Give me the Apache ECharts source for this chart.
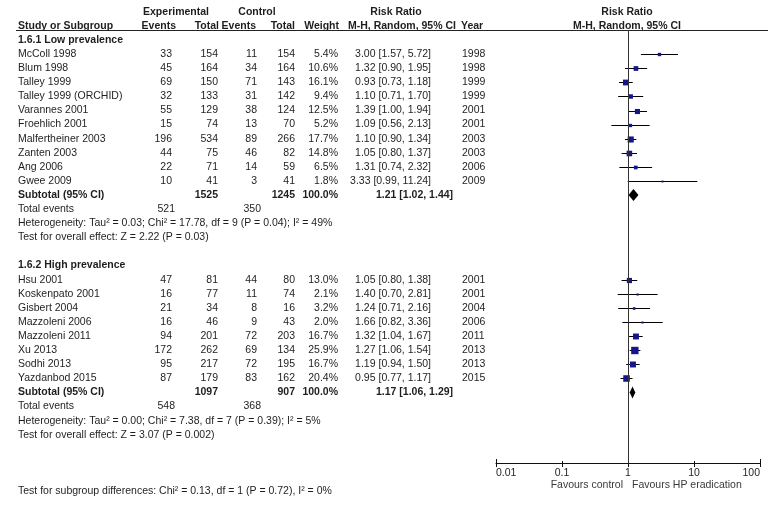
<!DOCTYPE html>
<html>
<head>
<meta charset="utf-8">
<script src="https://cdn.jsdelivr.net/npm/echarts@6/dist/echarts.min.js"></script>
<style>
  html, body { margin: 0; padding: 0; background: #fff; }
  #chart { width: 784px; height: 507px; }
</style>
</head>
<body>
<div id="chart"></div>
<script>
// ---- data: 1.6.1 Low prevalence ----
const names1   = ['McColl 1998', 'Blum 1998', 'Talley 1999', 'Talley 1999 (ORCHID)', 'Varannes 2001',
                  'Froehlich 2001', 'Malfertheiner 2003', 'Zanten 2003', 'Ang 2006', 'Gwee 2009'];
const expEv1   = [33, 45, 69, 32, 55, 15, 196, 44, 22, 10];
const expTot1  = [154, 164, 150, 133, 129, 74, 534, 75, 71, 41];
const ctlEv1   = [11, 34, 71, 31, 38, 13, 89, 46, 14, 3];
const ctlTot1  = [154, 164, 143, 142, 124, 70, 266, 82, 59, 41];
const weight1  = [5.4, 10.6, 16.1, 9.4, 12.5, 5.2, 17.7, 14.8, 6.5, 1.8];
const rr1      = [3.00, 1.32, 0.93, 1.10, 1.39, 1.09, 1.10, 1.05, 1.31, 3.33];
const lo1      = [1.57, 0.90, 0.73, 0.71, 1.00, 0.56, 0.90, 0.80, 0.74, 0.99];
const hi1      = [5.72, 1.95, 1.18, 1.70, 1.94, 2.13, 1.34, 1.37, 2.32, 11.24];
const year1    = [1998, 1998, 1999, 1999, 2001, 2001, 2003, 2003, 2006, 2009];

// ---- data: 1.6.2 High prevalence ----
const names2   = ['Hsu 2001', 'Koskenpato 2001', 'Gisbert 2004', 'Mazzoleni 2006', 'Mazzoleni 2011',
                  'Xu 2013', 'Sodhi 2013', 'Yazdanbod 2015'];
const expEv2   = [47, 16, 21, 16, 94, 172, 95, 87];
const expTot2  = [81, 77, 34, 46, 201, 262, 217, 179];
const ctlEv2   = [44, 11, 8, 9, 72, 69, 72, 83];
const ctlTot2  = [80, 74, 16, 43, 203, 134, 195, 162];
const weight2  = [13.0, 2.1, 3.2, 2.0, 16.7, 25.9, 16.7, 20.4];
const rr2      = [1.05, 1.40, 1.24, 1.66, 1.32, 1.27, 1.19, 0.95];
const lo2      = [0.80, 0.70, 0.71, 0.82, 1.04, 1.06, 0.94, 0.77];
const hi2      = [1.38, 2.81, 2.16, 3.36, 1.67, 1.54, 1.50, 1.17];
const year2    = [2001, 2001, 2004, 2006, 2011, 2013, 2013, 2015];

// ---- subgroup summaries ----
const groupTitles  = ['1.6.1 Low prevalence', '1.6.2 High prevalence'];
const subExpTotal  = [1525, 1097];
const subCtlTotal  = [1245, 907];
const subRR        = [1.21, 1.17];
const subLo        = [1.02, 1.06];
const subHi        = [1.44, 1.29];
const totExpEvents = [521, 548];
const totCtlEvents = [350, 368];
const hetText = [
  'Heterogeneity: Tau\u00b2 = 0.03; Chi\u00b2 = 17.78, df = 9 (P = 0.04); I\u00b2 = 49%',
  'Heterogeneity: Tau\u00b2 = 0.00; Chi\u00b2 = 7.38, df = 7 (P = 0.39); I\u00b2 = 5%'
];
const testText = [
  'Test for overall effect: Z = 2.22 (P = 0.03)',
  'Test for overall effect: Z = 3.07 (P = 0.002)'
];
const diffText = 'Test for subgroup differences: Chi\u00b2 = 0.13, df = 1 (P = 0.72), I\u00b2 = 0%';
const axisTicks = [0.01, 0.1, 1, 10, 100];

// ---- layout ----
const W = 784, H = 507;
const ROW_H = 14.1, ROW0_Y = 40;           // pixel centre of row 0
const ROW_MIN = -2.5, ROW_MAX = 33;
const AXIS_ROW = (463 - ROW0_Y) / ROW_H;   // forest axis line sits here
const LINE_ROW = (30 - ROW0_Y) / ROW_H;    // header underline
const FAV_ROW = (485 - ROW0_Y) / ROW_H;
const gridTop = ROW0_Y + ROW_MIN * ROW_H;
const FONT = '"Liberation Sans", Arial, sans-serif';
const FS = 10.5;
const TXT = '#1e1e1e';

const groups = [
  { start: 0,  names: names1, ee: expEv1, et: expTot1, ce: ctlEv1, ct: ctlTot1, w: weight1, rr: rr1, lo: lo1, hi: hi1, yr: year1 },
  { start: 16, names: names2, ee: expEv2, et: expTot2, ce: ctlEv2, ct: ctlTot2, w: weight2, rr: rr2, lo: lo2, hi: hi2, yr: year2 }
];

const ci = (r, l, h) => r.toFixed(2) + ' [' + l.toFixed(2) + ', ' + h.toFixed(2) + ']';

// table text cells
const cells = [];
function put(text, x, row, align, bold, color) {
  cells.push({ text: String(text), x: x, row: row, align: align || 'left', bold: !!bold, color: color || TXT });
}
put('Experimental', 176, -2, 'center', true);
put('Control', 257, -2, 'center', true);
put('Risk Ratio', 396, -2, 'center', true);
put('Risk Ratio', 627, -2, 'center', true);
put('Study or Subgroup', 18, -1, 'left', true);
put('Events', 176, -1, 'right', true);
put('Total', 219, -1, 'right', true);
put('Events', 256, -1, 'right', true);
put('Total', 295, -1, 'right', true);
put('Weight', 339, -1, 'right', true);
put('M-H, Random, 95% CI', 402, -1, 'center', true);
put('Year', 461, -1, 'left', true);
put('M-H, Random, 95% CI', 627, -1, 'center', true);

const studyData = [];
const diamondData = [];
groups.forEach(function (g, gi) {
  put(groupTitles[gi], 18, g.start, 'left', true);
  g.names.forEach(function (n, i) {
    const r = g.start + 1 + i;
    put(n, 18, r);
    put(g.ee[i], 172, r, 'right');
    put(g.et[i], 218, r, 'right');
    put(g.ce[i], 257, r, 'right');
    put(g.ct[i], 295, r, 'right');
    put(g.w[i].toFixed(1) + '%', 338, r, 'right');
    put(ci(g.rr[i], g.lo[i], g.hi[i]), 431, r, 'right');
    put(g.yr[i], 462, r, 'left');
    studyData.push([g.rr[i], r, g.lo[i], g.hi[i], g.w[i]]);
  });
  const s = g.start + 1 + g.names.length;
  put('Subtotal (95% CI)', 18, s, 'left', true);
  put(subExpTotal[gi], 218, s, 'right', true);
  put(subCtlTotal[gi], 295, s, 'right', true);
  put('100.0%', 338, s, 'right', true);
  put(ci(subRR[gi], subLo[gi], subHi[gi]), 376, s, 'left', true);
  diamondData.push([subRR[gi], s, subLo[gi], subHi[gi]]);
  put('Total events', 18, s + 1);
  put(totExpEvents[gi], 175, s + 1, 'right');
  put(totCtlEvents[gi], 261, s + 1, 'right');
  put(hetText[gi], 18, s + 2);
  put(testText[gi], 18, s + 3);
});
put(diffText, 18, 32);
put('Favours control', 623, FAV_ROW, 'right', false, '#3a3a3a');
put('Favours HP eradication', 632, FAV_ROW, 'left', false, '#3a3a3a');

const crisp = v => Math.round(v) + 0.5;

const chart = echarts.init(document.getElementById('chart'), null, { renderer: 'canvas' });
chart.setOption({
  animation: false,
  backgroundColor: '#fff',
  grid: [
    { left: 0, right: 0, top: gridTop, height: (ROW_MAX - ROW_MIN) * ROW_H },
    { left: 496, right: W - 760, top: gridTop, height: (AXIS_ROW - ROW_MIN) * ROW_H }
  ],
  xAxis: [
    { gridIndex: 0, type: 'value', min: 0, max: W, show: false },
    {
      gridIndex: 1, type: 'log', logBase: 10, position: 'bottom',
      min: axisTicks[0], max: axisTicks[axisTicks.length - 1],
      axisLine: { show: true, onZero: false, lineStyle: { color: '#111', width: 1 } },
      axisTick: { show: false },
      splitLine: { show: false },
      axisLabel: {
        show: true, margin: 5, color: TXT, fontSize: FS, fontFamily: FONT,
        alignMinLabel: 'left', alignMaxLabel: 'right',
        formatter: v => String(+v.toPrecision(3))
      }
    }
  ],
  yAxis: [
    { gridIndex: 0, type: 'value', inverse: true, min: ROW_MIN, max: ROW_MAX, show: false },
    { gridIndex: 1, type: 'value', inverse: true, min: ROW_MIN, max: AXIS_ROW, show: false }
  ],
  series: [
    {
      type: 'custom', xAxisIndex: 0, yAxisIndex: 0, silent: true, clip: false,
      data: cells.map(c => [c.x, c.row]),
      renderItem: function (params, api) {
        const c = cells[params.dataIndex];
        const p = api.coord([api.value(0), api.value(1)]);
        return {
          type: 'text', x: p[0], y: p[1],
          style: {
            text: c.text, align: c.align, verticalAlign: 'middle',
            textAlign: c.align, textVerticalAlign: 'middle',
            font: (c.bold ? 'bold ' : '') + FS + 'px ' + FONT, fill: c.color
          }
        };
      },
      markLine: {
        silent: true, symbol: 'none', label: { show: false },
        lineStyle: { color: '#222', width: 1, type: 'solid' },
        data: [[{ coord: [16, LINE_ROW] }, { coord: [768, LINE_ROW] }]]
      }
    },
    {
      // axis tick marks crossing the axis line
      type: 'custom', xAxisIndex: 1, yAxisIndex: 1, silent: true, clip: false,
      data: axisTicks.map(t => [t, AXIS_ROW]),
      renderItem: function (params, api) {
        const p = api.coord([api.value(0), api.value(1)]);
        const end = params.dataIndex === 0 || params.dataIndex === axisTicks.length - 1;
        const x = crisp(p[0]);
        const y = Math.round(p[1]);
        return {
          type: 'line',
          shape: { x1: x, y1: y - (end ? 4 : 2), x2: x, y2: y + 4 },
          style: { stroke: '#111', lineWidth: 1 }
        };
      }
    },
    {
      type: 'custom', xAxisIndex: 1, yAxisIndex: 1, silent: true, clip: false,
      data: studyData,
      encode: { x: [0, 2, 3], y: 1 },
      renderItem: function (params, api) {
        const row = api.value(1);
        const mid = api.coord([api.value(0), row]);
        const lo = api.coord([api.value(2), row]);
        const hi = api.coord([api.value(3), row]);
        const s = Math.max(1.5, Math.sqrt(api.value(4)) * 1.45);
        const y = crisp(mid[1]);
        return {
          type: 'group',
          children: [
            { type: 'line', shape: { x1: lo[0], y1: y, x2: hi[0], y2: y }, style: { stroke: '#000', lineWidth: 1 } },
            { type: 'rect', shape: { x: mid[0] - s / 2, y: y - s / 2, width: s, height: s }, style: { fill: '#16168a' } }
          ]
        };
      },
      markLine: {
        silent: true, symbol: 'none', label: { show: false },
        lineStyle: { color: '#333', width: 1, type: 'solid' },
        data: [[{ coord: [1, LINE_ROW] }, { coord: [1, AXIS_ROW] }]]
      }
    },
    {
      type: 'custom', xAxisIndex: 1, yAxisIndex: 1, silent: true, clip: false,
      data: diamondData,
      encode: { x: [0, 2, 3], y: 1 },
      renderItem: function (params, api) {
        const row = api.value(1);
        const mid = api.coord([api.value(0), row]);
        const lo = api.coord([api.value(2), row]);
        const hi = api.coord([api.value(3), row]);
        const h = 6;
        return {
          type: 'polygon',
          shape: { points: [[lo[0], mid[1]], [mid[0], mid[1] - h], [hi[0], mid[1]], [mid[0], mid[1] + h]] },
          style: { fill: '#000' }
        };
      }
    }
  ]
});
</script>
</body>
</html>
